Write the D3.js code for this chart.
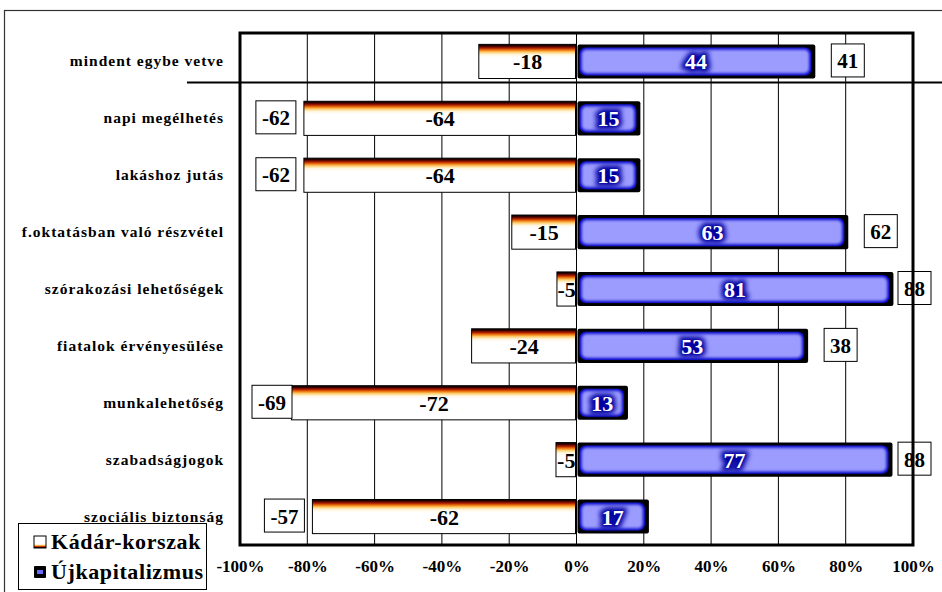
<!DOCTYPE html>
<html lang="hu">
<head>
<meta charset="UTF-8">
<title>Kádár-korszak és újkapitalizmus</title>
<style>
    body { margin: 0; background: #fff; }
</style>
</head>
<body>
<svg id="chart" width="942" height="592" font-family="Liberation Serif" font-weight="bold"></svg>
<script src="https://d3js.org/d3.v7.min.js"></script>
<script>
// data
var categories = ["mindent egybe vetve", "napi megélhetés", "lakáshoz jutás",
    "f.oktatásban való részvétel", "szórakozási lehetőségek", "fiatalok érvényesülése",
    "munkalehetőség", "szabadságjogok", "szociális biztonság"];
var kadar = [-18, -64, -64, -15, -5, -24, -72, -5, -62];
var ujkap = [44, 15, 15, 63, 81, 53, 13, 77, 17];
var kulonbseg = [41, -62, -62, 62, 88, 38, -69, 88, -57];
var tickValues = [-1, -0.8, -0.6, -0.4, -0.2, 0, 0.2, 0.4, 0.6, 0.8, 1];
var seriesNames = ["Kádár-korszak", "Újkapitalizmus"];

var FONT = "Liberation Serif";
var svg = d3.select("#chart");
var margin = { top: 33, left: 240, right: 29, bottom: 47 };
var W = 942, H = 592;

var rows = categories.map(function(c, i) {
    var tot = Math.abs(kadar[i]) + ujkap[i];
    return { cat: c, neg: kadar[i], pos: ujkap[i], cmp: kulonbseg[i],
             negShare: -Math.abs(kadar[i]) / tot, posShare: ujkap[i] / tot };
});

var x = d3.scaleLinear().domain([-1, 1]).range([margin.left, W - margin.right]);
var y = d3.scaleBand().domain(categories).range([margin.top, H - margin.bottom])
    .paddingInner(0.4).paddingOuter(0.2);
var bh = y.bandwidth();

// defs
var defs = svg.append("defs");
var g1 = defs.append("linearGradient").attr("id", "negGrad")
    .attr("x1", 0).attr("y1", 0).attr("x2", 0).attr("y2", 1);
[[0, "#000"], [0.05, "#3a0000"], [0.11, "#b02000"], [0.17, "#f07a10"],
 [0.23, "#ffd070"], [0.3, "#fff6e0"], [0.38, "#fff"], [1, "#fff"]].forEach(function(s) {
    g1.append("stop").attr("offset", s[0]).attr("stop-color", s[1]);
});
defs.append("filter").attr("id", "soft").attr("x", "-20%").attr("y", "-20%")
    .attr("width", "140%").attr("height", "140%")
    .append("feGaussianBlur").attr("stdDeviation", 1.8);
defs.append("filter").attr("id", "glow").attr("x", "-50%").attr("y", "-50%")
    .attr("width", "200%").attr("height", "200%")
    .append("feGaussianBlur").attr("stdDeviation", 2.5);

// outer frame
svg.append("rect").attr("x", 4.5).attr("y", 10.5).attr("width", 960).attr("height", 600)
    .attr("fill", "none").attr("stroke", "#333").attr("stroke-width", 1.2);

// grid
svg.append("g").selectAll("line").data(tickValues.slice(1, -1)).enter().append("line")
    .attr("x1", function(d) { return x(d); }).attr("x2", function(d) { return x(d); })
    .attr("y1", margin.top).attr("y2", H - margin.bottom)
    .attr("stroke", "#000").attr("stroke-width", 1);

// separator below the summary row
var sepY = y(categories[0]) + bh + 4;
svg.append("line").attr("x1", 187).attr("x2", W).attr("y1", sepY).attr("y2", sepY)
    .attr("stroke", "#000").attr("stroke-width", 2);

// negative bars
var negG = svg.append("g").selectAll("g").data(rows).enter().append("g");
negG.append("rect")
    .attr("x", function(d) { return x(d.negShare); })
    .attr("y", function(d) { return y(d.cat); })
    .attr("width", function(d) { return x(0) - x(d.negShare) - 1; })
    .attr("height", bh)
    .attr("fill", "url(#negGrad)").attr("stroke", "#000").attr("stroke-width", 1);
negG.append("text")
    .attr("x", function(d) { return (x(d.negShare) + x(0)) / 2; })
    .attr("y", function(d) { return y(d.cat) + bh / 2 + 8; })
    .attr("text-anchor", "middle").attr("font-size", 22).attr("fill", "#000")
    .attr("font-family", FONT)
    .text(function(d) { return "-" + Math.abs(d.neg); });

// positive bars
var posG = svg.append("g").selectAll("g").data(rows).enter().append("g");
posG.append("rect")
    .attr("x", x(0) + 1)
    .attr("y", function(d) { return y(d.cat); })
    .attr("width", function(d) { return x(d.posShare) - x(0) - 1; })
    .attr("height", bh).attr("rx", 2)
    .attr("fill", "#000");
posG.append("rect")
    .attr("x", x(0) + 3)
    .attr("y", function(d) { return y(d.cat) + 3; })
    .attr("width", function(d) { return x(d.posShare) - x(0) - 7; })
    .attr("height", bh - 6).attr("rx", 6)
    .attr("fill", "#0000c8");
posG.append("rect")
    .attr("x", x(0) + 5)
    .attr("y", function(d) { return y(d.cat) + 5; })
    .attr("width", function(d) { return x(d.posShare) - x(0) - 11; })
    .attr("height", bh - 10).attr("rx", 5)
    .attr("fill", "#9c9cff").attr("filter", "url(#soft)");
posG.append("text")
    .attr("x", function(d) { return (x(0) + x(d.posShare)) / 2; })
    .attr("y", function(d) { return y(d.cat) + bh / 2 + 8; })
    .attr("text-anchor", "middle").attr("font-size", 22).attr("font-family", FONT)
    .attr("fill", "#0000a0").attr("stroke", "#0000a0").attr("stroke-width", 7)
    .attr("filter", "url(#glow)")
    .text(function(d) { return d.pos; });
posG.append("text")
    .attr("x", function(d) { return (x(0) + x(d.posShare)) / 2; })
    .attr("y", function(d) { return y(d.cat) + bh / 2 + 8; })
    .attr("text-anchor", "middle").attr("font-size", 22).attr("font-family", FONT)
    .attr("fill", "#fff")
    .text(function(d) { return d.pos; });

// difference boxes
var boxG = svg.append("g").selectAll("g").data(rows).enter().append("g");
boxG.each(function(d) {
    var g = d3.select(this);
    var cy = y(d.cat) + bh / 2;
    var t = g.append("text").attr("font-size", 21).attr("fill", "#000")
        .attr("font-family", FONT).attr("text-anchor", "middle")
        .text(d.cmp < 0 ? "-" + Math.abs(d.cmp) : d.cmp);
    var tw = t.node().getComputedTextLength();
    var bw = tw + 12, bhh = 33;
    var bx = d.cmp > 0
        ? Math.min(x(d.posShare) + 16, x(1) - 15)
        : Math.max(x(d.negShare) - 8 - bw, x(-1) + 12);
    g.insert("rect", "text").attr("x", bx).attr("y", cy - bhh / 2 - 1)
        .attr("width", bw).attr("height", bhh)
        .attr("fill", "#fff").attr("stroke", "#000").attr("stroke-width", 1);
    t.attr("x", bx + bw / 2).attr("y", cy + 7);
});

// plot border
svg.append("rect").attr("x", margin.left).attr("y", margin.top)
    .attr("width", W - margin.left - margin.right).attr("height", H - margin.top - margin.bottom)
    .attr("fill", "none").attr("stroke", "#000").attr("stroke-width", 3);

// category labels
svg.append("g").selectAll("text").data(categories).enter().append("text")
    .attr("x", 224).attr("y", function(d) { return y(d) + bh / 2 + 5; })
    .attr("text-anchor", "end").attr("font-size", 15.5).attr("letter-spacing", 1.0)
    .attr("font-family", FONT)
    .text(function(d) { return d; });

// x axis
var axis = svg.append("g").attr("transform", "translate(0," + (H - margin.bottom) + ")")
    .call(d3.axisBottom(x).tickValues(tickValues).tickSize(0).tickPadding(15)
        .tickFormat(function(d) { return d3.format(".0%")(d).replace("−", "-"); }));
axis.attr("font-family", FONT).attr("font-size", 17);
axis.select(".domain").remove();
axis.selectAll("text").attr("fill", "#000").attr("font-family", FONT)
    .attr("font-weight", "bold").attr("font-size", 17);

// legend
var lg = svg.append("g");
lg.append("rect").attr("x", 18.5).attr("y", 523.5).attr("width", 188).attr("height", 66)
    .attr("fill", "#fff").attr("stroke", "#000").attr("stroke-width", 1);
lg.append("rect").attr("x", 34).attr("y", 536).attr("width", 12).attr("height", 12)
    .attr("fill", "url(#negGrad)").attr("stroke", "#000").attr("transform", "rotate(180,40,542)");
lg.append("rect").attr("x", 34).attr("y", 566).attr("width", 12).attr("height", 12)
    .attr("fill", "#000").attr("rx", 1);
lg.append("rect").attr("x", 37).attr("y", 570).attr("width", 6).attr("height", 4)
    .attr("fill", "#6a6aff");
lg.selectAll("text.lt").data(seriesNames).enter().append("text").attr("class", "lt")
    .attr("x", 51).attr("y", function(d, i) { return 549 + i * 30; })
    .attr("font-size", 22).attr("letter-spacing", 0.6).attr("font-family", FONT)
    .text(function(d) { return d; });
</script>
</body>
</html>
